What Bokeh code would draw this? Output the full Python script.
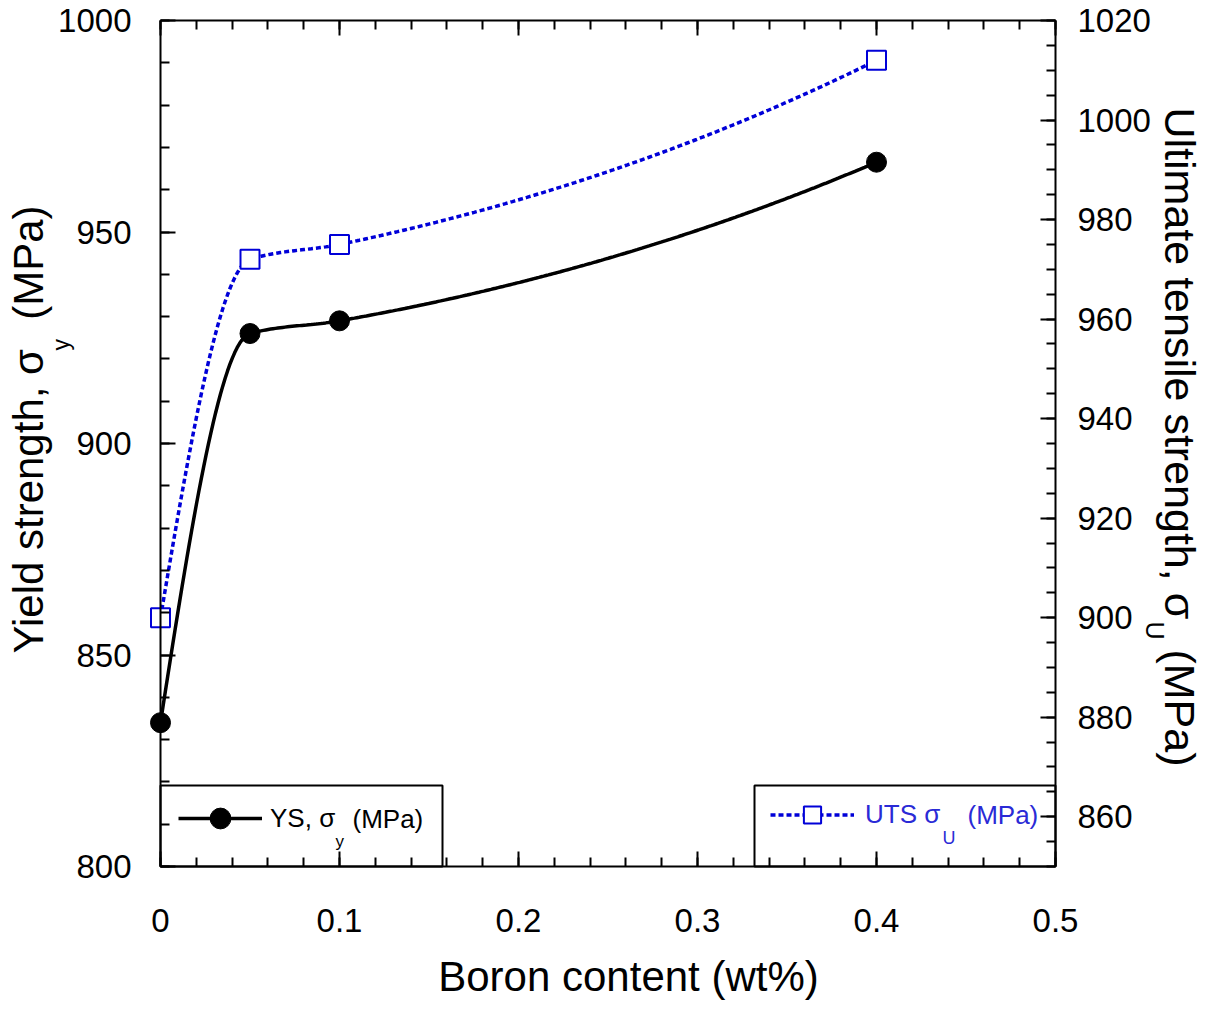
import numpy as np
from bokeh.plotting import figure
from bokeh.models import (Range1d, LinearAxis, SingleIntervalTicker, Label,
                          BoxAnnotation, Legend, LegendItem, CustomJSTickFormatter)
from bokeh.embed import file_html
from bokeh.resources import INLINE

# ---- data ----
boron_wt = [0.0, 0.05, 0.1, 0.4]          # Boron content (wt%)
ys_mpa = [834.0, 926.0, 929.0, 966.5]      # Yield strength (MPa), left axis
uts_mpa = [900.0, 972.0, 975.0, 1012.0]    # Ultimate tensile strength (MPa), right axis

# axis extents
X0, X1 = 0.0, 0.5
Y0, Y1 = 800.0, 1000.0
U0, U1 = 850.0, 1020.0

FONT = "Liberation Sans"
BLUE = "#0000d8"
LEG_BLUE = "#2a2ad6"

# canvas / axes-box geometry (pixels)
W, H = 1203, 1000
BOX_L, BOX_R, BOX_T, BOX_B = 160, 1055, 20, 866


def smooth_curve(x, y, n=300):
    """Monotone cubic (PCHIP) rendering of the measured points."""
    x = np.asarray(x, float)
    y = np.asarray(y, float)
    h = np.diff(x)
    d = np.diff(y) / h
    m = np.zeros_like(y)
    for k in range(1, len(x) - 1):
        if d[k - 1] * d[k] > 0:
            w1 = 2 * h[k] + h[k - 1]
            w2 = h[k] + 2 * h[k - 1]
            m[k] = (w1 + w2) / (w1 / d[k - 1] + w2 / d[k])

    def end(h0, h1, d0, d1):
        s = ((2 * h0 + h1) * d0 - h0 * d1) / (h0 + h1)
        if np.sign(s) != np.sign(d0):
            s = 0.0
        elif np.sign(d0) != np.sign(d1) and abs(s) > abs(3 * d0):
            s = 3 * d0
        return s

    m[0] = end(h[0], h[1], d[0], d[1])
    m[-1] = end(h[-1], h[-2], d[-1], d[-2])
    xs = np.linspace(x[0], x[-1], n)
    idx = np.clip(np.searchsorted(x, xs, side="right") - 1, 0, len(x) - 2)
    t = (xs - x[idx]) / h[idx]
    h00 = 2 * t**3 - 3 * t**2 + 1
    h10 = t**3 - 2 * t**2 + t
    h01 = -2 * t**3 + 3 * t**2
    h11 = t**3 - t**2
    ys = h00 * y[idx] + h10 * h[idx] * m[idx] + h01 * y[idx + 1] + h11 * h[idx] * m[idx + 1]
    return xs, ys


# ranges spanning the whole canvas, so that the axes box sits at BOX_*
kx = (BOX_R - BOX_L) / (X1 - X0)
ky = (BOX_B - BOX_T) / (Y1 - Y0)
ku = (BOX_B - BOX_T) / (U1 - U0)
x_range = Range1d(X0 - BOX_L / kx, X1 + (W - BOX_R) / kx)
y_range = Range1d(Y0 - (H - BOX_B) / ky, Y1 + BOX_T / ky)
u_range = Range1d(U0 - (H - BOX_B) / ku, U1 + BOX_T / ku)

p = figure(width=W, height=H, x_range=x_range, y_range=y_range,
           output_backend="svg", toolbar_location=None,
           min_border=0, min_border_left=0, min_border_right=0,
           min_border_top=0, min_border_bottom=0)
p.extra_y_ranges = {"uts": u_range}
p.grid.visible = False
p.outline_line_color = None
p.background_fill_color = "white"
p.border_fill_color = "white"


def style_axis(ax, standoff):
    ax.axis_line_width = 2
    ax.axis_line_color = "black"
    ax.major_tick_line_width = 2
    ax.minor_tick_line_width = 2
    ax.major_tick_line_color = "black"
    ax.minor_tick_line_color = "black"
    ax.major_tick_in = 15
    ax.major_tick_out = 0
    ax.minor_tick_in = 9
    ax.minor_tick_out = 0
    ax.major_label_text_font = FONT
    ax.major_label_text_font_size = "33px"
    ax.major_label_text_color = "black"
    ax.major_label_standoff = standoff


# bottom x axis
xax = p.xaxis[0]
xax.ticker = SingleIntervalTicker(interval=0.1, num_minor_ticks=5)
xax.fixed_location = Y0
xax.bounds = (X0, X1)
style_axis(xax, 42)
xax.major_label_overrides = {0: "0"}

# top x axis (ticks only)
top = LinearAxis(ticker=SingleIntervalTicker(interval=0.1, num_minor_ticks=5),
                 formatter=CustomJSTickFormatter(code="return ''"))
style_axis(top, 0)
top.fixed_location = Y1
top.bounds = (X0, X1)
p.add_layout(top, "above")

# left y axis
yax = p.yaxis[0]
yax.ticker = SingleIntervalTicker(interval=50, num_minor_ticks=5)
yax.fixed_location = X0
yax.bounds = (Y0, Y1)
style_axis(yax, 29)

# right y axis (UTS)
rax = LinearAxis(y_range_name="uts", ticker=SingleIntervalTicker(interval=20, num_minor_ticks=4))
style_axis(rax, 22)
rax.fixed_location = X1
rax.bounds = (U0, U1)
p.add_layout(rax, "right")

# ---- series ----
xs_ys, yy_ys = smooth_curve(boron_wt, ys_mpa)
xs_uts, yy_uts = smooth_curve(boron_wt, uts_mpa)

uts_line = p.line(xs_uts, yy_uts, y_range_name="uts", line_color=BLUE,
                  line_width=3.5, line_dash="5 3")
uts_pts = p.scatter(boron_wt, uts_mpa, y_range_name="uts", marker="square",
                    size=19, fill_color="white", line_color=BLUE, line_width=2)
ys_line = p.line(xs_ys, yy_ys, line_color="black", line_width=3.5)
ys_pts = p.scatter(boron_wt, ys_mpa, marker="circle", size=20,
                   fill_color="black", line_color="black")


# helpers: reference pixel (from top-left) -> screen units (from bottom-left)
def sx(px):
    return px


def sy(py):
    return H - py


# ---- legends ----
for left, right in ((160, 442), (754, 1055)):
    p.add_layout(BoxAnnotation(left=sx(left), right=sx(right), bottom=sy(866), top=sy(785),
                               left_units="screen", right_units="screen",
                               bottom_units="screen", top_units="screen",
                               fill_color=None, fill_alpha=0,
                               line_color="black", line_alpha=1.0, line_width=2))

leg_ys = Legend(items=[LegendItem(label="YS, σ", renderers=[ys_line, ys_pts])],
                location=(sx(178), sy(818) - 26), padding=0, margin=0, spacing=0,
                glyph_width=84, glyph_height=52, label_standoff=8,
                label_text_font=FONT, label_text_font_size="26px",
                label_text_color="black",
                border_line_color=None, background_fill_alpha=0)
leg_uts = Legend(items=[LegendItem(label="UTS σ", renderers=[uts_line, uts_pts])],
                 location=(sx(770), sy(814) - 21.5), padding=0, margin=0, spacing=0,
                 glyph_width=84, glyph_height=43, label_standoff=11,
                 label_text_font=FONT, label_text_font_size="26px",
                 label_text_color=LEG_BLUE,
                 border_line_color=None, background_fill_alpha=0)
p.add_layout(leg_ys)
p.add_layout(leg_uts)


def lab(text, x, y, size, color="black", angle=0.0, align="left"):
    p.add_layout(Label(x=sx(x), y=sy(y), x_units="screen", y_units="screen", text=text,
                       angle=angle, text_align=align, text_baseline="middle",
                       text_font=FONT, text_font_size=size, text_color=color))


# legend subscripts and units
lab("y", 335, 841, "17px")
lab("(MPa)", 352, 818, "26px")
lab("U", 942, 837, "18px", color=LEG_BLUE)
lab("(MPa)", 967, 814, "26px", color=LEG_BLUE)

# axis titles
lab("Boron content (wt%)", 628, 976, "42px", align="center")
lab("Yield strength, σ", 28, 653, "42px", angle=np.pi / 2)
lab("y", 60, 350, "23px", angle=np.pi / 2)
lab("(MPa)", 28, 205, "42px", angle=np.pi / 2, align="right")
lab("Ultimate tensile strength, σ", 1179, 107, "43px", angle=-np.pi / 2)
lab("U", 1154, 621, "25px", angle=-np.pi / 2)
lab("(MPa)", 1179, 766, "43px", angle=-np.pi / 2, align="right")

open("out.html", "w").write(file_html(p, INLINE))
